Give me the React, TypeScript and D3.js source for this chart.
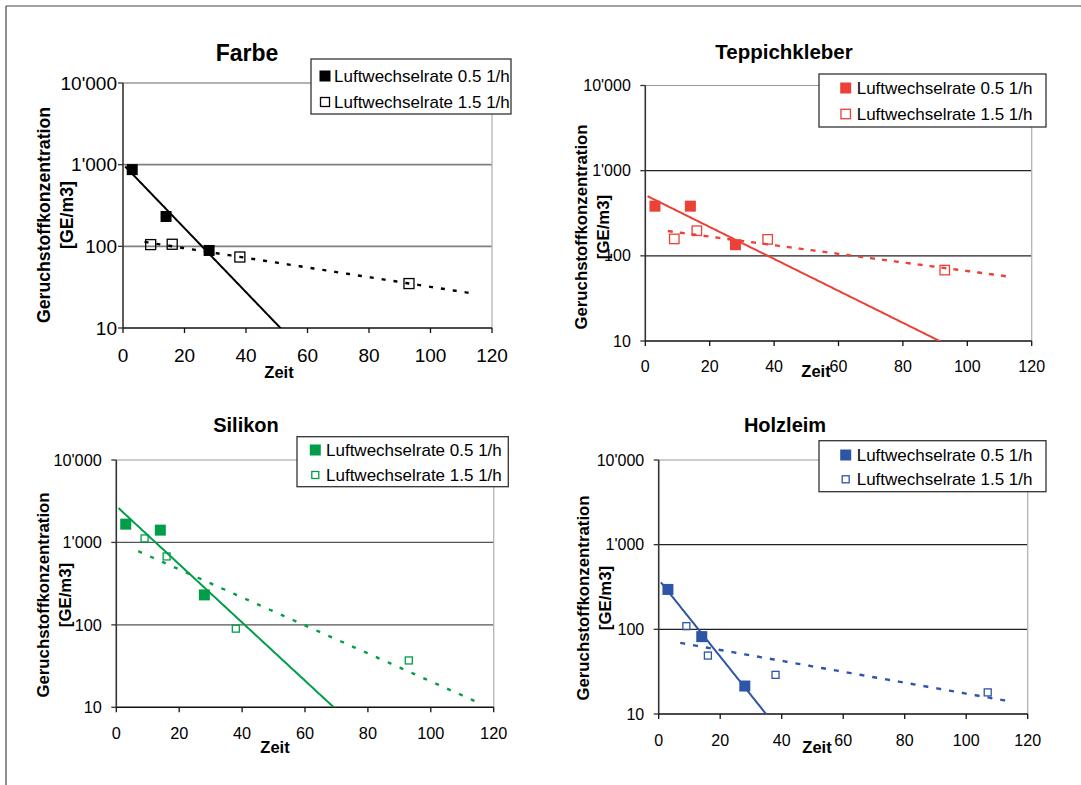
import React from 'react'
import * as d3 from 'd3'

// time points (h) of the measurements
const timeLow = [3, 14, 28]
const timeHigh = [9, 16, 38, 93]
const timeHighHolz = [9, 16, 38, 107]

// odour concentration GE/m3, air change 0.5 1/h and 1.5 1/h
const farbeLow = [870, 232, 89]
const farbeHigh = [105, 106, 74, 35]
const teppichLow = [383, 383, 135]
const teppichHigh = [158, 197, 156, 68]
const silikonLow = [1667, 1410, 231]
const silikonHigh = [1118, 676, 90, 37]
const holzLow = [296, 82, 21.4]
const holzHigh = [109, 49, 29, 18]

const seriesNames = ['Luftwechselrate 0.5 1/h', 'Luftwechselrate 1.5 1/h']
const xTicks = [0, 20, 40, 60, 80, 100, 120]
const yTicks = [10, 100, 1000, 10000]
// trendline extents (time)
const trendLowStart = 0.7
const trendHighSpan = [7, 114]

const fmt = d3.formatLocale({ decimal: '.', thousands: "'", grouping: [3], currency: ['', ''] }).format(',')
const FONT = '"Liberation Sans", Arial, sans-serif'

// exponential fit like Excel's trendline
const expFit = (xs: number[], ys: number[]) => {
  const ly = ys.map(v => Math.log(v))
  const mx = d3.mean(xs)!, my = d3.mean(ly)!
  const sxy = d3.sum(xs, (x, i) => (x - mx) * (ly[i] - my))
  const sxx = d3.sum(xs, x => (x - mx) ** 2)
  const b = sxy / sxx
  const a = Math.exp(my - b * mx)
  return (x: number) => a * Math.exp(b * x)
}

const panels = [
  {
    id: 'farbe', title: 'Farbe', color: '#000000', low: farbeLow, high: farbeHigh, tHigh: timeHigh,
    box: { l: 123, r: 492, t: 83, b: 328 }, grid: '#808080', gridW: 1.6,
    titlePos: [247, 53], titleSize: 23, tickSize: 19, labelGap: 6, xLabDy: 27,
    yTitle: [44, 67, 215], yTitleSize: 17.7, zeit: [279, 372],
    legend: { x0: 311, x1: 511, y0: 59, y1: 114, rows: [76, 102], mx: 325, tx: 334 },
    hollow: 10, legHollow: 9, dash: '4 8',
  },
  {
    id: 'teppich', title: 'Teppichkleber', color: '#eb4136', low: teppichLow, high: teppichHigh, tHigh: timeHigh,
    box: { l: 645.3, r: 1031.7, t: 85.5, b: 341 }, grid: '#222', gridW: 1.1,
    titlePos: [784, 51], titleSize: 20.5, tickSize: 16, labelGap: 14.5, xLabDy: 25,
    yTitle: [581.7, 603.3, 227], yTitleSize: 16.8, zeit: [816, 371],
    legend: { x0: 819, x1: 1046, y0: 74, y1: 127, rows: [88, 114], mx: 845.7, tx: 856.7 },
    hollow: 9.5, legHollow: 9.5, dash: '5 7',
  },
  {
    id: 'silikon', title: 'Silikon', color: '#009e49', low: silikonLow, high: silikonHigh, tHigh: timeHigh,
    box: { l: 116.3, r: 493.7, t: 460, b: 707.3 }, grid: '#555', gridW: 1.2,
    titlePos: [246, 425], titleSize: 20, tickSize: 16.3, labelGap: 14.5, xLabDy: 26,
    yTitle: [43.3, 65.3, 595], yTitleSize: 16.8, zeit: [275, 747],
    legend: { x0: 297, x1: 508.3, y0: 436.7, y1: 486.7, rows: [450, 475], mx: 315.3, tx: 326 },
    hollow: 7, legHollow: 7, dash: '4 9',
  },
  {
    id: 'holz', title: 'Holzleim', color: '#2d55a8', low: holzLow, high: holzHigh, tHigh: timeHighHolz,
    box: { l: 658.7, r: 1027.7, t: 460, b: 714 }, grid: '#222', gridW: 1.1,
    titlePos: [785, 425], titleSize: 20, tickSize: 16, labelGap: 14.5, xLabDy: 26,
    yTitle: [583.3, 605.7, 598], yTitleSize: 16.8, zeit: [817, 747],
    legend: { x0: 819, x1: 1046, y0: 440.7, y1: 491.7, rows: [455, 479.3], mx: 845.7, tx: 856.7 },
    hollow: 7, legHollow: 7, dash: '5 8',
  },
]

const Panel = ({ p }: { p: typeof panels[number] }) => {
  const { box } = p
  const x = d3.scaleLinear().domain([0, 120]).range([box.l, box.r])
  const y = d3.scaleLog().domain([10, 10000]).range([box.b, box.t])
  const fitLow = expFit(timeLow, p.low)
  const fitHigh = expFit(p.tHigh, p.high)
  const line = d3.line<[number, number]>().x(d => x(d[0])).y(d => y(d[1]))
  const lowPts = d3.range(trendLowStart, 120, 0.5).map(t => [t, fitLow(t)] as [number, number])
  const highPts = d3.range(trendHighSpan[0], trendHighSpan[1] + 0.01, 0.5).map(t => [t, fitHigh(t)] as [number, number])
  const fs = 11
  return (
    <g>
      <defs>
        <clipPath id={'clip-' + p.id}>
          <rect x={box.l} y={box.t} width={box.r - box.l} height={box.b - box.t} />
        </clipPath>
      </defs>
      {/* grid */}
      {yTicks.slice(1).map(v => (
        <line key={v} x1={box.l} x2={box.r} y1={y(v)} y2={y(v)}
          stroke={v === 10000 ? '#999' : p.grid} strokeWidth={p.gridW} />
      ))}
      <line x1={box.r} x2={box.r} y1={box.t} y2={box.b} stroke="#b4b4b4" strokeWidth={1.3} />
      {/* axes */}
      <line x1={box.l} x2={box.l} y1={box.t} y2={box.b + 0.5} stroke="#333" strokeWidth={1.6} />
      <line x1={box.l} x2={box.r} y1={box.b} y2={box.b} stroke="#111" strokeWidth={1.6} />
      {xTicks.map(v => (
        <g key={v}>
          <line x1={x(v)} x2={x(v)} y1={box.b} y2={box.b + 5} stroke="#111" strokeWidth={1.3} />
          <text x={x(v)} y={box.b + p.xLabDy} textAnchor="middle" dominantBaseline="central"
            fontSize={p.tickSize} fontFamily={FONT}>{v}</text>
        </g>
      ))}
      {yTicks.map(v => (
        <g key={v}>
          <line x1={box.l - 5} x2={box.l} y1={y(v)} y2={y(v)} stroke="#333" strokeWidth={1.3} />
          <text x={box.l - p.labelGap} y={y(v)} textAnchor="end" dominantBaseline="central"
            fontSize={p.tickSize} fontFamily={FONT}>{fmt(v)}</text>
        </g>
      ))}
      {/* trendlines */}
      <g clipPath={`url(#clip-${p.id})`}>
        <path d={line(lowPts)!} fill="none" stroke={p.color} strokeWidth={2} />
        <path d={line(highPts)!} fill="none" stroke={p.color} strokeWidth={2.4} strokeDasharray={p.dash} />
      </g>
      {/* points */}
      {p.high.map((v, i) => (
        <rect key={'h' + i} x={x(p.tHigh[i]) - p.hollow / 2} y={y(v) - p.hollow / 2}
          width={p.hollow} height={p.hollow} fill="none" stroke={p.color} strokeWidth={1.3} />
      ))}
      {p.low.map((v, i) => (
        <rect key={'l' + i} x={x(timeLow[i]) - fs / 2} y={y(v) - fs / 2} width={fs} height={fs} fill={p.color} />
      ))}
      {/* titles */}
      <text x={p.titlePos[0]} y={p.titlePos[1]} textAnchor="middle" dominantBaseline="central"
        fontSize={p.titleSize} fontWeight="bold" fontFamily={FONT}>{p.title}</text>
      <text transform={`translate(${p.yTitle[0]},${p.yTitle[2]}) rotate(-90)`} textAnchor="middle"
        dominantBaseline="central" fontSize={p.yTitleSize} fontWeight="bold" fontFamily={FONT}>
        Geruchstoffkonzentration
      </text>
      <text transform={`translate(${p.yTitle[1]},${p.yTitle[2]}) rotate(-90)`} textAnchor="middle"
        dominantBaseline="central" fontSize={p.yTitleSize} fontWeight="bold" fontFamily={FONT}>
        [GE/m3]
      </text>
      <text x={p.zeit[0]} y={p.zeit[1]} textAnchor="middle" dominantBaseline="central"
        fontSize={16.5} fontWeight="bold" fontFamily={FONT}>Zeit</text>
      {/* legend */}
      <rect x={p.legend.x0} y={p.legend.y0} width={p.legend.x1 - p.legend.x0} height={p.legend.y1 - p.legend.y0}
        fill="#fff" stroke="#333" strokeWidth={1.3} />
      <rect x={p.legend.mx - fs / 2} y={p.legend.rows[0] - fs / 2} width={fs} height={fs} fill={p.color} />
      <rect x={p.legend.mx - p.legHollow / 2} y={p.legend.rows[1] - p.legHollow / 2} width={p.legHollow}
        height={p.legHollow} fill="none" stroke={p.color} strokeWidth={1.3} />
      {seriesNames.map((s, i) => (
        <text key={s} x={p.legend.tx} y={p.legend.rows[i]} dominantBaseline="central"
          fontSize={17} fontFamily={FONT}>{s}</text>
      ))}
    </g>
  )
}

const App = () => {
  return (
    <div style={{ position: 'absolute', left: 0, top: 0 }}>
      <svg width={1081} height={785} style={{ display: 'block', background: '#fff' }}>
        <line x1={6} x2={1081} y1={6} y2={6} stroke="#444" strokeWidth={1.2} />
        <line x1={6} x2={6} y1={6} y2={785} stroke="#444" strokeWidth={1.2} />
        {panels.map(p => <Panel key={p.id} p={p} />)}
      </svg>
    </div>
  )
}

export default App
